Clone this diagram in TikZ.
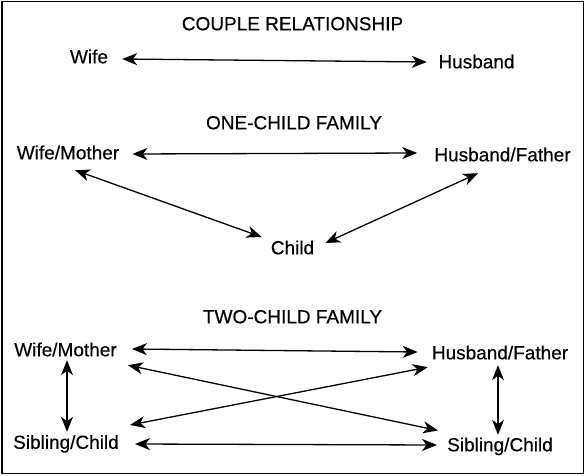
\documentclass[tikz,border=0pt]{standalone}
\usepackage{fontspec}
\setmainfont{Liberation Sans}[FakeBold=0.4]
\usepackage{tikz}
\usetikzlibrary{
    arrows.meta
}
\tikzset{
  lab/.style   = {inner sep=0pt, text height=13.6pt, text depth=0pt,
                  font=\fontsize{19}{22}\selectfont},
  dbl/.style   = {{Stealth[length=15pt,width=12pt,inset=4.5pt]}-{Stealth[length=15pt,width=12pt,inset=4.5pt]},
                  line width=1.3pt, black}
}

\begin{document}
\begin{tikzpicture}[x=1pt, y=1pt]
    \useasboundingbox (0,0) rectangle (585,475);
    \draw[line width=1.5pt] (2,473.5) rectangle (583.5,1.5);
    \node[lab](t1)      at (292.5,451.5) {COUPLE RELATIONSHIP};
    \node[lab](wife)    at (89,418.5)    {Wife};
    \node[lab](husband) at (476.5,413.5) {Husband};
    \node[lab](t2)      at (294,352.5)   {ONE-CHILD FAMILY};
    \node[lab](wm1)     at (68,322.5)    {Wife/Mother};
    \node[lab](hf1)     at (502.5,320.5) {Husband/Father};
    \node[lab](child)   at (292.5,227.5) {Child};
    \node[lab](t3)      at (292.5,158.5) {TWO-CHILD FAMILY};
    \node[lab](wm2)     at (65.5,125.5)  {Wife/Mother};
    \node[lab](hf2)     at (500,122.5)   {Husband/Father};
    \node[lab](sc1)     at (66,33)       {Sibling/Child};
    \node[lab](sc2)     at (500,30.5)    {Sibling/Child};
    \draw[dbl]([xshift=14pt,yshift=-2.5pt]wife.east)--([xshift=-11.5pt,yshift=-0.5pt]husband.west);
    \draw[dbl]([xshift=13pt,yshift=-1.5pt]wm1.east)--([xshift=-17pt,yshift=1.5pt]hf1.west);
    \draw[dbl]([xshift=7pt,yshift=-10.7pt]wm1.south)--([xshift=-9pt,yshift=10.5pt]child.west);
    \draw[dbl]([xshift=-24.5pt,yshift=-11.7pt]hf1.south)--([xshift=11pt,yshift=4.5pt]child.east);
    \draw[dbl]([xshift=15pt,yshift=0.5pt]wm2.east)--([xshift=-14pt,yshift=0.5pt]hf2.west);
    \draw[dbl]([xshift=1.5pt,yshift=-3.7pt]wm2.south)--([xshift=1pt,yshift=3.2pt]sc1.north);
    \draw[dbl]([xshift=-2pt,yshift=-5.7pt]hf2.south)--([xshift=-2pt,yshift=2.7pt]sc2.north);
    \draw[dbl]([xshift=16pt,yshift=-2pt]sc1.east)--([xshift=-10pt,yshift=-0.5pt]sc2.west);
    \draw[dbl]([xshift=11pt,yshift=-8.7pt]wm2.south east)--([xshift=-9pt,yshift=7pt]sc2.north west);
    \draw[dbl]([xshift=11pt,yshift=10pt]sc1.north east)--([xshift=-4pt,yshift=-7.7pt]hf2.south west);
  \end{tikzpicture}
\end{document}
